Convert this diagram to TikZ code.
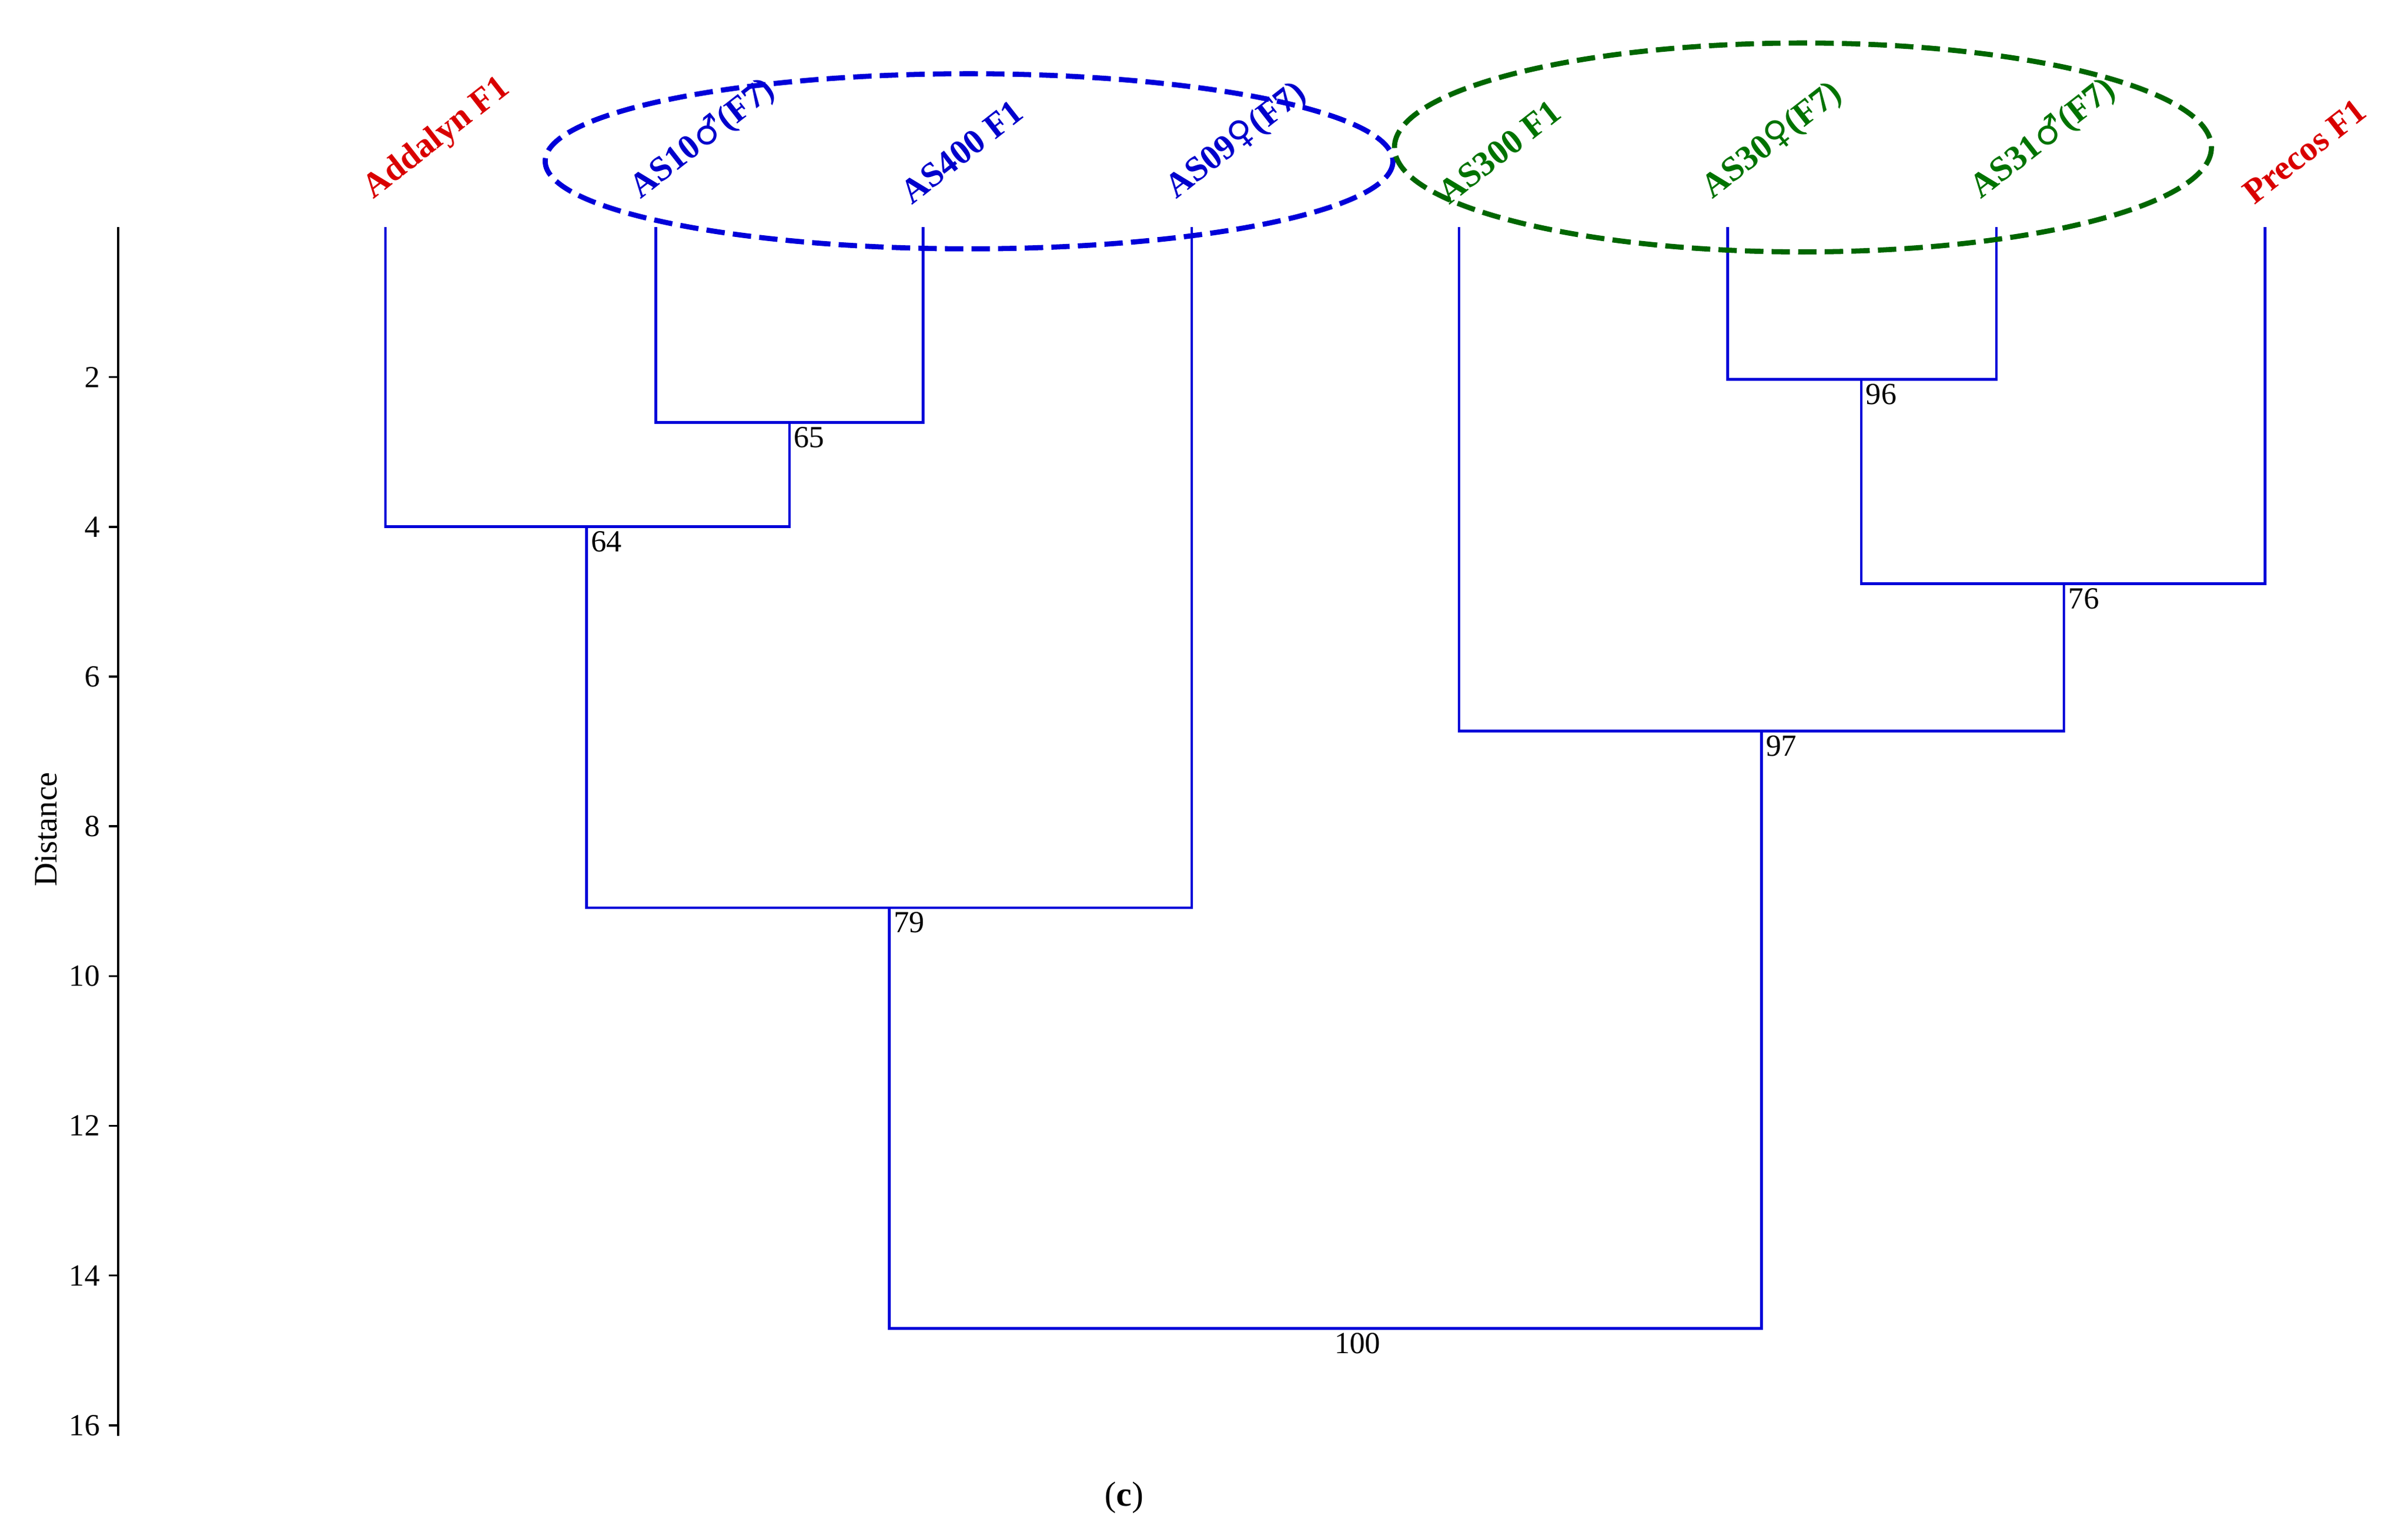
\documentclass[tikz,border=0pt]{standalone}
\usepackage{fontspec}
\setmainfont{Liberation Serif}
\newfontfamily\symf{DejaVu Serif}
\newcommand{\male}{{\symf ♂}}
\newcommand{\female}{{\symf ♀}}
\begin{document}
\begin{tikzpicture}[x=0.02638cm,y=-0.02638cm,
  br/.style={draw=blue!85!black,line width=1.3pt},
  lf/.style={rotate=38,anchor=south west,inner sep=0pt,font=\fontsize{17}{17}\bfseries\selectfont},
  num/.style={anchor=north west,inner sep=2pt,font=\fontsize{15}{15}\selectfont},
  tk/.style={anchor=east,inner sep=2pt,font=\fontsize{15}{15}\selectfont}]
\useasboundingbox (0,0) rectangle (1568,1000);
% axis
\draw[line width=1pt] (77,148) -- (77,935);
\foreach \d in {2,4,...,16}{
  \draw[line width=1pt] (77,{148+48.75*\d}) -- (71,{148+48.75*\d});
  \node[tk] at (68,{148+48.75*\d}) {\d};}
\node[rotate=90,font=\fontsize{16}{16}\selectfont] (dist) at (30,540) {Distance};
% leaves
\foreach \n/\x in {a/251,b/427,c/601,d/776,e/950,f/1125,g/1300,h/1475}
  \coordinate (\n) at (\x,148);
\coordinate (j1) at (514,275);
\coordinate (j2) at (382,343);
\coordinate (j3) at (579,591);
\coordinate (j4) at (1212,247);
\coordinate (j5) at (1344,380);
\coordinate (j6) at (1147,476);
\coordinate (j7) at (863,865);
\draw[br] (b) |- (j1) -| (c);
\draw[br] (a) |- (j2) -| (j1);
\draw[br] (j2) |- (j3) -| (d);
\draw[br] (f) |- (j4) -| (g);
\draw[br] (j4) |- (j5) -| (h);
\draw[br] (e) |- (j6) -| (j5);
\draw[br] (j3) |- (j7) -| (j6);
\node[num] at (j1) {65};
\node[num] at (j2) {64};
\node[num] at (j3) {79};
\node[num] at (j4) {96};
\node[num] at (j5) {76};
\node[num] at (j6) {97};
\node[num] at (866,865) {100};
% leaf labels
\node[lf,text=red!85!black] at (246,134) {Addalyn F1};
\node[lf,text=blue!80!black] at (420,134) {AS10\male(F7)};
\node[lf,text=blue!80!black] at (594,134) {AS400 F1};
\node[lf,text=blue!80!black] at (769,134) {AS09\female(F7)};
\node[lf,text=green!45!black] at (944,134) {AS300 F1};
\node[lf,text=green!45!black] at (1118,134) {AS30\female(F7)};
\node[lf,text=green!45!black] at (1293,134) {AS31\male(F7)};
\node[lf,text=red!85!black] at (1468,134) {Precos F1};
% ellipses
\draw[blue!85!black,line width=2.5pt,dash pattern=on 9pt off 4pt] (631,105) ellipse [x radius=276,y radius=57];
\draw[green!40!black,line width=2.5pt,dash pattern=on 9pt off 4pt] (1174,96) ellipse [x radius=266,y radius=68];
\node[font=\fontsize{17}{17}\selectfont] (cap) at (732,975) {(\textbf{c})};
\end{tikzpicture}
\end{document}
